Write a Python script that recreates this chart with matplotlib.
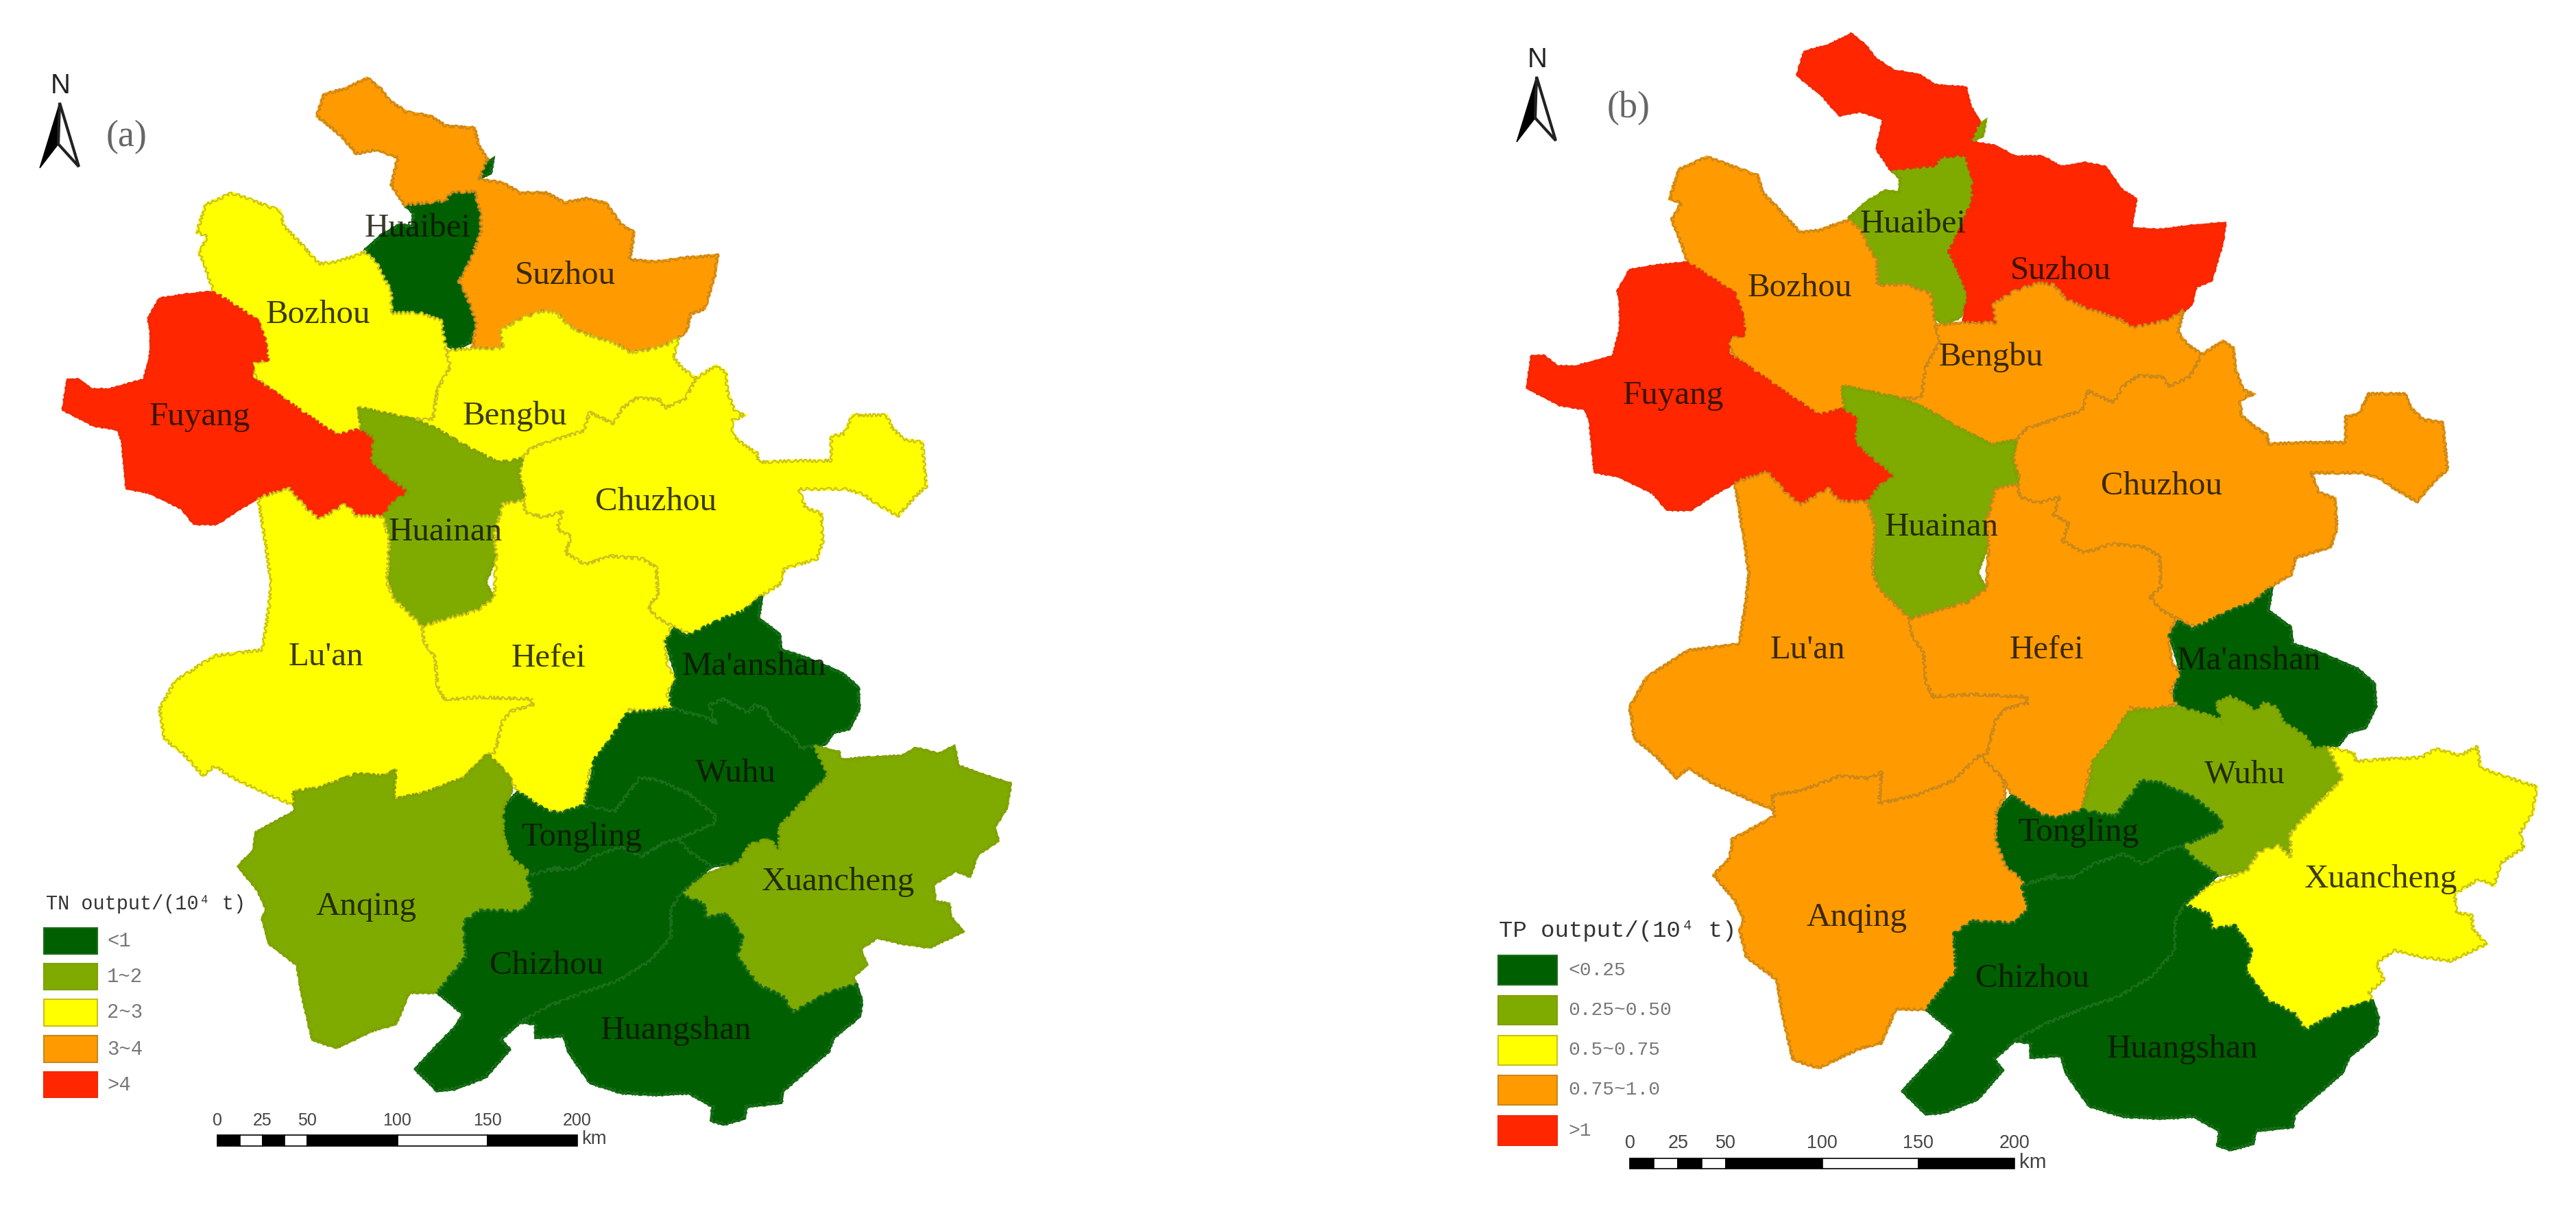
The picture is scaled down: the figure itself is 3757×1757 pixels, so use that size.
import matplotlib
matplotlib.use("Agg")
import matplotlib.pyplot as plt
from matplotlib.patches import Polygon, Rectangle
from matplotlib.transforms import Affine2D

W, H = 3757, 1757

# digitised crops: (x0, y0, sx, sy)
Z1 = (0, 0, 1.568, 1.742)
Z2 = (0, 850, 1.568, 1.742)
Z3 = (800, 850, 1.96, 1.742)
Z6 = (750, 450, 2.412, 2.412)


def scan(crop, pts):
    x0, y0, sx, sy = crop
    return [(x0 + x / sx, y0 + y / sy) for x, y in pts]


CITIES = ["Huaibei", "Suzhou", "Bozhou", "Bengbu", "Fuyang", "Chuzhou", "Huainan", "Lu'an",
          "Hefei", "Ma'anshan", "Wuhu", "Tongling", "Anqing", "Xuancheng", "Chizhou", "Huangshan"]
TN_CLASS = [0, 3, 2, 2, 4, 2, 1, 2, 2, 0, 0, 0, 1, 1, 0, 0]
TP_CLASS = [1, 4, 3, 3, 4, 3, 1, 3, 3, 0, 1, 0, 3, 2, 0, 0]
CLASS_COLORS = ["#005f00", "#7fab00", "#ffff00", "#ff9b00", "#ff2600"]
CLASS_EDGES = ["#1c6f1c", "#7fa000", "#c9c01e", "#c8871c", "#f02a00"]
TN_TITLE = "TN output/(10⁴ t)"
TP_TITLE = "TP output/(10⁴ t)"
TN_LEGEND = ["<1", "1~2", "2~3", "3~4", ">4"]
TP_LEGEND = ["<0.25", "0.25~0.50", "0.5~0.75", "0.75~1.0", ">1"]
SCALE_KM = [0, 12.5, 25, 37.5, 50, 100, 150, 200]
SCALE_LABELS = [0, 25, 50, 100, 150, 200]

HUAIBEI = scan(Z1, [(925, 520), (945, 540), (944, 575), (913, 571), (870, 600), (835, 635), (860, 665), (875, 700),
                    (895, 740), (895, 795), (960, 795), (1010, 815), (1015, 870), (1040, 890), (1075, 870), (1090, 820),
                    (1070, 760), (1050, 715), (1080, 650), (1100, 590), (1100, 540), (1085, 485), (1030, 490), (1020, 510)])
HUAIBEI_TIP = scan(Z1, [(1098, 452), (1105, 420), (1128, 403), (1122, 440)])
SUZHOU = (scan(Z1, [(740, 240), (790, 225), (840, 198), (870, 225), (890, 255), (930, 285), (985, 295), (1020, 320),
                    (1085, 325), (1095, 370), (1115, 405), (1095, 455), (1150, 465), (1190, 490), (1250, 490), (1290, 515),
                    (1340, 505), (1385, 515), (1420, 570), (1450, 590), (1440, 660), (1500, 665), (1568, 655)])
          + scan(Z6, [(716, -188), (706, -120), (670, 0), (620, 20), (605, 80), (580, 100), (530, 130), (470, 145),
                      (410, 155), (370, 130), (330, 115), (250, 90), (190, 60), (150, 15)])
          + scan(Z1, [(1240, 790), (1190, 810), (1145, 840), (1150, 885), (1080, 885), (1090, 820), (1070, 760), (1050, 715),
                      (1080, 650), (1100, 590), (1100, 540), (1085, 485), (1030, 490), (1020, 510), (925, 520), (895, 470),
                      (910, 400), (860, 380), (815, 390), (780, 345), (725, 295)]))
BOZHOU = scan(Z1, [(450, 590), (470, 520), (530, 490), (580, 510), (640, 535), (650, 575), (685, 615), (730, 670),
                   (770, 665), (835, 640), (860, 665), (875, 700), (895, 740), (895, 795), (960, 795), (1010, 815),
                   (1020, 890), (1030, 930), (1000, 990), (990, 1065), (945, 1065), (820, 1035), (825, 1090), (770, 1105),
                   (690, 1045), (620, 990), (585, 960), (575, 925), (610, 915), (610, 880), (590, 815), (550, 785),
                   (490, 745), (470, 680), (455, 640), (475, 600)])
FUYANG = scan(Z1, [(490, 742), (550, 785), (590, 815), (605, 860), (612, 915), (580, 915), (575, 960), (620, 990),
                   (690, 1045), (770, 1105), (825, 1090), (855, 1110), (850, 1170), (895, 1215), (935, 1250), (900, 1275),
                   (875, 1312), (815, 1310), (790, 1280), (730, 1320), (700, 1290), (660, 1240), (590, 1265), (550, 1290),
                   (495, 1330), (445, 1330), (415, 1290), (340, 1250), (290, 1240), (280, 1120), (270, 1090), (215, 1080),
                   (145, 1040), (155, 965), (180, 965), (210, 990), (250, 990), (330, 965), (345, 900), (345, 840),
                   (340, 810), (365, 760), (420, 750)])
HUAINAN = (scan(Z1, [(820, 1035), (945, 1065), (1000, 1090), (1060, 1130), (1140, 1175), (1195, 1165), (1185, 1205),
                     (1200, 1270), (1150, 1280), (1130, 1360), (1135, 1410), (1110, 1480)])
           + scan(Z2, [(1130, 40), (1090, 70), (1025, 90), (965, 110), (900, 40), (890, 0)])
           + scan(Z1, [(890, 1370), (875, 1312), (900, 1275), (935, 1250), (895, 1215), (850, 1170), (855, 1110), (825, 1090)]))
BENGBU = (scan(Z1, [(1020, 890), (1080, 885), (1150, 885), (1145, 840), (1190, 810), (1240, 790)])
          + scan(Z6, [(150, 15), (190, 60), (250, 90), (330, 115), (370, 130), (410, 155), (470, 145), (530, 130),
                      (580, 100), (560, 170), (590, 210), (640, 245), (600, 320), (530, 350), (510, 320), (430, 315),
                      (380, 350), (350, 405), (265, 365), (245, 430), (150, 460), (60, 490), (25, 530)])
          + scan(Z1, [(1195, 1165), (1140, 1175), (1060, 1130), (1000, 1090), (945, 1065), (990, 1065), (1000, 990), (1030, 930)]))
CHUZHOU = scan(Z6, [(640, 245), (710, 200), (745, 225), (750, 290), (775, 360), (810, 375), (765, 395), (770, 445),
                    (810, 480), (855, 510), (860, 540), (1000, 535), (1115, 535), (1115, 450), (1160, 440), (1190, 375),
                    (1310, 375), (1330, 420), (1370, 460), (1435, 470), (1450, 625), (1410, 660), (1350, 730), (1280, 690),
                    (1230, 655), (1170, 635), (1000, 635), (1025, 700), (1080, 720), (1085, 820), (1065, 880), (950, 915),
                    (935, 970), (860, 1015), (790, 1080), (720, 1105), (650, 1140), (620, 1145), (555, 1115), (500, 1085),
                    (470, 1045), (505, 1010), (500, 910), (450, 880), (340, 870), (250, 900), (180, 860), (200, 800),
                    (150, 775), (170, 715), (100, 735), (40, 715), (30, 675), (40, 650), (20, 590), (25, 530), (60, 490),
                    (150, 460), (245, 430), (265, 365), (350, 405), (380, 350), (430, 315), (510, 320), (530, 350), (600, 320)])
MAANSHAN = scan(Z3, [(610, 35), (600, 90), (660, 130), (665, 170), (735, 190), (815, 220), (840, 230), (885, 265),
                     (888, 320), (860, 370), (815, 380), (790, 410), (760, 415), (720, 420), (700, 390), (640, 355),
                     (620, 320), (590, 310), (570, 330), (500, 295), (460, 310), (480, 360), (460, 345), (360, 320),
                     (345, 295), (365, 235), (350, 190), (335, 150), (360, 115), (395, 135), (440, 115), (500, 90), (560, 70)])
WUHU = scan(Z3, [(225, 330), (360, 320), (460, 345), (480, 360), (460, 310), (500, 295), (570, 330), (590, 310),
                 (620, 320), (640, 355), (700, 390), (720, 420), (760, 415), (780, 440), (800, 485), (730, 550),
                 (680, 600), (660, 620), (660, 680), (630, 650), (575, 665), (545, 710), (465, 720), (400, 680),
                 (370, 650), (475, 610), (475, 590), (400, 535), (310, 500), (260, 495), (190, 580), (100, 570),
                 (125, 490), (130, 450), (175, 400)])
TONGLING = (scan(Z2, [(1150, 570), (1185, 530), (1245, 575), (1280, 585), (1335, 565)])
            + scan(Z3, [(190, 580), (260, 495), (310, 500), (400, 535), (475, 590), (475, 610), (370, 650), (330, 660),
                        (265, 695), (210, 670), (130, 695), (80, 725), (0, 730)])
            + scan(Z2, [(1280, 720), (1205, 745), (1170, 700), (1150, 640)]))
ANQING = scan(Z2, [(670, 530), (730, 520), (815, 485), (880, 490), (905, 475), (900, 550), (980, 530), (1060, 495),
                   (1115, 435), (1165, 490), (1170, 530), (1150, 570), (1150, 640), (1170, 700), (1205, 730), (1220, 800),
                   (1190, 835), (1100, 830), (1060, 860), (1065, 950), (1000, 1040), (935, 1040), (905, 1120), (855, 1135),
                   (770, 1180), (715, 1160), (690, 1040), (680, 970), (615, 915), (600, 850), (610, 830), (590, 780),
                   (545, 720), (580, 680), (585, 635), (675, 580)])
XUANCHENG = scan(Z3, [(375, 790), (450, 740), (545, 710), (575, 665), (630, 650), (660, 680), (660, 620), (690, 590),
                      (800, 490), (760, 415), (830, 430), (835, 450), (900, 445), (1010, 440), (1050, 420), (1115, 435),
                      (1160, 415), (1170, 465), (1250, 490), (1320, 510), (1310, 570), (1275, 620), (1285, 655), (1225, 690),
                      (1205, 745), (1165, 730), (1100, 765), (1105, 810), (1145, 815), (1150, 850), (1185, 885), (1090, 925),
                      (1010, 915), (940, 900), (890, 930), (910, 970), (870, 1000), (880, 1020), (800, 1040), (700, 1090),
                      (670, 1050), (600, 1020), (540, 950), (555, 900), (510, 840), (450, 850), (445, 815)])
CHIZHOU = (scan(Z2, [(1205, 745), (1220, 800), (1190, 835), (1100, 830), (1060, 860), (1065, 950), (1000, 1040),
                     (1060, 1095), (1040, 1130), (1000, 1175), (950, 1235), (1000, 1290), (1040, 1285), (1110, 1255),
                     (1165, 1185), (1145, 1160), (1190, 1115)])
           + scan(Z3, [(0, 1075), (100, 1040), (200, 1010), (290, 960), (350, 900), (350, 830), (375, 790), (465, 720),
                       (400, 680), (370, 650), (330, 660), (265, 695), (210, 670), (130, 695), (80, 725), (0, 730)]))
HUANGSHAN = (scan(Z2, [(1190, 1115), (1225, 1120), (1225, 1155), (1290, 1150), (1300, 1190)])
             + scan(Z3, [(80, 1220), (120, 1270), (210, 1295), (310, 1300), (400, 1295), (470, 1330), (465, 1365), (500, 1375),
                         (560, 1360), (565, 1330), (665, 1320), (670, 1290), (800, 1190), (815, 1155), (890, 1100), (895, 1060),
                         (880, 1020), (800, 1040), (700, 1090), (670, 1050), (600, 1020), (540, 950), (555, 900), (510, 840),
                         (450, 850), (445, 815), (375, 790), (350, 830), (350, 900), (290, 960), (200, 1010), (100, 1040), (0, 1075)]))
LUAN = (scan(Z1, [(590, 1265), (660, 1240), (700, 1290), (730, 1320), (790, 1280), (815, 1310), (875, 1312), (890, 1370), (885, 1480)])
        + scan(Z2, [(900, 40), (965, 110), (970, 150), (995, 190), (1000, 260), (1015, 295), (1100, 290), (1215, 295), (1220, 310),
                    (1170, 325), (1150, 350), (1130, 435), (1115, 435), (1060, 495), (980, 530), (900, 550), (905, 475), (880, 490),
                    (815, 485), (730, 520), (670, 530), (675, 565), (640, 550), (540, 500), (490, 465), (465, 490), (420, 435),
                    (375, 395), (365, 320), (400, 250), (490, 185), (600, 170), (615, 60), (620, 0)])
        + scan(Z1, [(610, 1400)]))
HEFEI = (scan(Z2, [(965, 110), (1025, 90), (1090, 70), (1130, 40)])
         + scan(Z1, [(1135, 1410), (1130, 1360), (1150, 1280), (1200, 1270)])
         + scan(Z6, [(30, 675), (40, 715), (100, 735), (170, 715), (150, 775), (200, 800), (180, 860), (250, 900), (340, 870),
                     (450, 880), (500, 910), (505, 1010), (470, 1045), (500, 1085), (555, 1115), (530, 1170), (540, 1260),
                     (570, 1300), (535, 1355), (565, 1395), (470, 1415), (400, 1410)])
         + scan(Z2, [(1450, 325), (1430, 340), (1380, 430), (1350, 470), (1335, 565), (1280, 585), (1245, 575), (1185, 530),
                     (1165, 490), (1115, 435), (1130, 435), (1150, 350), (1170, 325), (1220, 310), (1215, 295), (1100, 290),
                     (1015, 295), (1000, 260), (995, 190), (970, 150)]))

RINGS = [[HUAIBEI, HUAIBEI_TIP], [SUZHOU], [BOZHOU], [BENGBU], [FUYANG], [CHUZHOU], [HUAINAN], [LUAN],
         [HEFEI], [MAANSHAN], [WUHU], [TONGLING], [ANQING], [XUANCHENG], [CHIZHOU], [HUANGSHAN]]

LABELS_A = [(609, 333), (824, 402), (464, 459), (751, 607), (291, 608), (957, 732), (650, 776), (475, 958),
            (800, 960), (1100, 972), (1073, 1128), (848, 1221), (534, 1322), (1222, 1286), (797, 1408), (986, 1503)]
LABELS_B = [(2790, 327), (3005, 395), (2625, 420), (2904, 521), (2440, 577), (3152, 709), (2832, 769), (2636, 948),
            (2985, 948), (3280, 964), (3274, 1129), (3031, 1214), (2708, 1338), (3473, 1282), (2964, 1427), (3183, 1530)]

SERIF = ["Liberation Serif", "DejaVu Serif"]
MONO = ["Liberation Mono", "DejaVu Sans Mono"]
SANS = ["Liberation Sans", "DejaVu Sans"]
PX = 0.72
WOBBLE = (2.2, 14, 6)

fig = plt.figure(figsize=(W / 100, H / 100), dpi=100, facecolor="white")
ax = fig.add_axes([0, 0, 1, 1])
ax.set_xlim(0, W)
ax.set_ylim(H, 0)
ax.axis("off")


def draw_map(classes, labels, trans):
    for rings, c in zip(RINGS, classes):
        for ring in rings:
            ax.add_patch(Polygon(ring, closed=True, fc=CLASS_COLORS[c], ec=CLASS_COLORS[c], lw=3, transform=trans, zorder=2))
    for rings, c in zip(RINGS, classes):
        for ring in rings:
            p = Polygon(ring, closed=True, fc=CLASS_COLORS[c], ec=CLASS_EDGES[c], lw=1.5, joinstyle="round",
                        transform=trans, zorder=3)
            p.set_sketch_params(*WOBBLE)
            ax.add_patch(p)
    for name, (x, y) in zip(CITIES, labels):
        ax.text(x, y, name, ha="center", va="center", family=SERIF, fontsize=49 * PX, color="#101000", alpha=0.82, zorder=5)


def draw_legend(title, entries, tx, ty, tsize, px0, px1, boxes, lx, lsize):
    ax.text(tx, ty, title, ha="left", va="center", family=MONO, fontsize=tsize * PX, color="#333333", zorder=6)
    for (y0, y1), c, e, lab in zip(boxes, CLASS_COLORS, CLASS_EDGES, entries):
        ax.add_patch(Rectangle((px0, y0), px1 - px0, y1 - y0, fc=c, ec=e, lw=1.5, zorder=6))
        ax.text(lx, (y0 + y1) / 2, lab, ha="left", va="center", family=MONO, fontsize=lsize * PX, color="#777777", zorder=6)


def draw_scale(x0, pxkm, y0, y1, ylab, size, kmx, kmy):
    for i in range(len(SCALE_KM) - 1):
        a, b = SCALE_KM[i], SCALE_KM[i + 1]
        ax.add_patch(Rectangle((x0 + a * pxkm, y0), (b - a) * pxkm, y1 - y0, fc="black" if i % 2 == 0 else "white",
                               ec="black", lw=1.2, zorder=6))
    for km in SCALE_LABELS:
        ax.text(x0 + km * pxkm, ylab, str(km), ha="center", va="center", family=SANS, fontsize=size * PX, color="#444444", zorder=6)
    ax.text(kmx, kmy, "km", ha="left", va="center", family=SANS, fontsize=size * 1.1 * PX, color="#444444", zorder=6)


def draw_north(dx, dy, tag, tagx, tagy):
    tip, left, inner, right = (87 + dx, 150 + dy), (58 + dx, 245 + dy), (85 + dx, 210 + dy), (115 + dx, 243 + dy)
    ax.add_patch(Polygon([tip, left, inner], closed=True, fc="black", ec="black", lw=1, zorder=6))
    ax.add_patch(Polygon([tip, right, inner], closed=True, fc="white", ec="#222222", lw=3, zorder=6))
    ax.text(88 + dx, 125 + dy, "N", ha="center", va="center", family=SANS, fontsize=40 * PX, color="#222222", zorder=6)
    ax.text(tagx, tagy, tag, ha="center", va="center", family=SERIF, fontsize=54 * PX, color="#666666", zorder=6)


# panel (a) sits in reference pixels, panel (b) is the same outline at 1.066x
draw_map(TN_CLASS, LABELS_A, ax.transData)
draw_map(TP_CLASS, LABELS_B, Affine2D().scale(1.066).translate(2129, -71) + ax.transData)

draw_legend(TN_TITLE, TN_LEGEND, 67, 1318, 28.5, 64, 142,
            [(1353, 1391), (1405, 1443), (1457, 1496), (1510, 1549), (1563, 1600)], 156, 29)
draw_legend(TP_TITLE, TP_LEGEND, 2186, 1357, 34, 2185, 2271,
            [(1393, 1436), (1452, 1494), (1510, 1553), (1568, 1611), (1627, 1670)], 2287, 28)

draw_scale(317, 2.625, 1655, 1671, 1634, 25, 848, 1661)
draw_scale(2377, 2.805, 1689, 1704, 1667, 27, 2945, 1695)

draw_north(0, 0, "(a)", 185, 200)
draw_north(2154, -38, "(b)", 2375, 158)

fig.savefig("out.png", dpi=100)
